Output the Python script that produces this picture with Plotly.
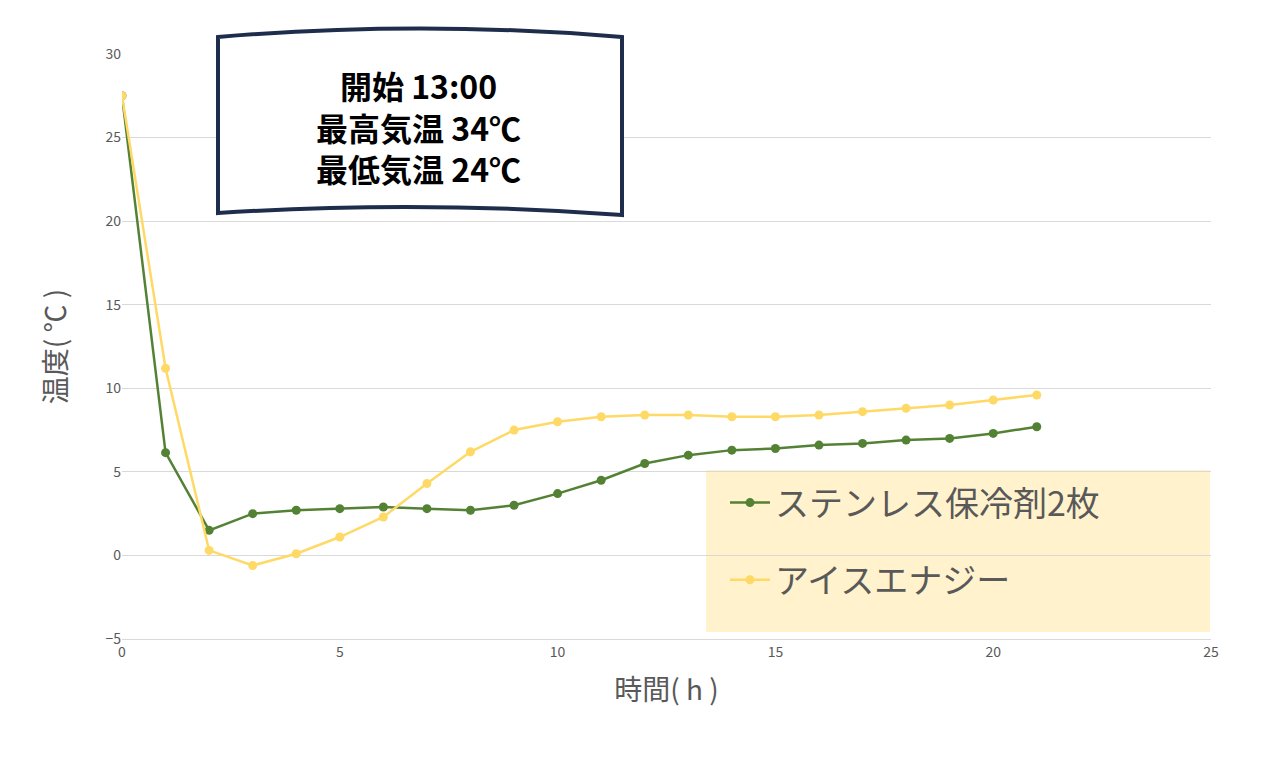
import plotly.graph_objects as go

hours = list(range(22))
steel = [27.5, 6.15, 1.5, 2.5, 2.7, 2.8, 2.9, 2.8, 2.7, 3.0, 3.7, 4.5, 5.5, 6.0, 6.3, 6.4, 6.6, 6.7, 6.9, 7.0, 7.3, 7.7]
ice = [27.5, 11.2, 0.3, -0.6, 0.1, 1.1, 2.3, 4.3, 6.2, 7.5, 8.0, 8.3, 8.4, 8.4, 8.3, 8.3, 8.4, 8.6, 8.8, 9.0, 9.3, 9.6]
names = ["ステンレス保冷剤2枚", "アイスエナジー"]
colors = ["#548235", "#FFD966"]
flag_lines = ["開始 13:00", "最高気温 34℃", "最低気温 24℃"]

F = "Noto Sans CJK JP"
fig = go.Figure()
for i, (n, ys) in enumerate(zip(names, [steel, ice])):
    fig.add_trace(go.Scatter(x=hours, y=ys, name=n, mode="lines+markers",
                             line=dict(color=colors[i], width=2.5),
                             marker=dict(size=9, color=colors[i]),
                             legendgroup=str(i)))

W, H = 1268, 761
L, R, T, B = 122, 57, 54, 122
pw, ph = W - L - R, H - T - B
def px(x): return (x - L) / pw
def py(y): return (H - B - y) / ph

fig.add_shape(type="rect", xref="paper", yref="paper", x0=px(706), x1=px(1210), y0=py(632), y1=py(470),
              fillcolor="#FFF2CC", line=dict(width=0), layer="below")
path = (f"M {px(218)},{py(37)} Q {px(420)},{py(20)} {px(622)},{py(37)} "
        f"L {px(622)},{py(215)} Q {px(420)},{py(200)} {px(218)},{py(213)} Z")
fig.add_shape(type="path", xref="paper", yref="paper", path=path,
              fillcolor="white", line=dict(color="#1F2D4D", width=4))
fig.add_annotation(xref="paper", yref="paper", x=px(418), y=py(126), xanchor="center", yanchor="middle",
                   showarrow=False,
                   text="<br>".join(f"<b>{t}</b>" for t in flag_lines),
                   font=dict(family=F, size=32, color="black"), align="center")

S = 8  # page body offset
fig.update_layout(
    width=W, height=H, margin=dict(l=L - S, r=R + S, t=T - S, b=B + S),
    plot_bgcolor="white", paper_bgcolor="white",
    font=dict(family=F, color="#595959"),
    xaxis=dict(range=[0, 25], dtick=5, showgrid=False, showline=True, linecolor="#D9D9D9",
               ticks="", tickfont=dict(size=14), zeroline=False,
               title=dict(text="時間( h )", font=dict(size=28), standoff=20)),
    yaxis=dict(range=[-5, 30], dtick=5, gridcolor="#D9D9D9", zeroline=False, ticks="",
               tickfont=dict(size=14),
               title=dict(text="温度( ℃ )", font=dict(size=28), standoff=30)),
    legend=dict(x=px(725), y=py(474), xanchor="left", yanchor="top", bgcolor="rgba(0,0,0,0)",
                font=dict(size=34, family=F, color="#595959"), tracegroupgap=30, itemwidth=40),
    showlegend=True,
)
fig.write_html("out.html")
